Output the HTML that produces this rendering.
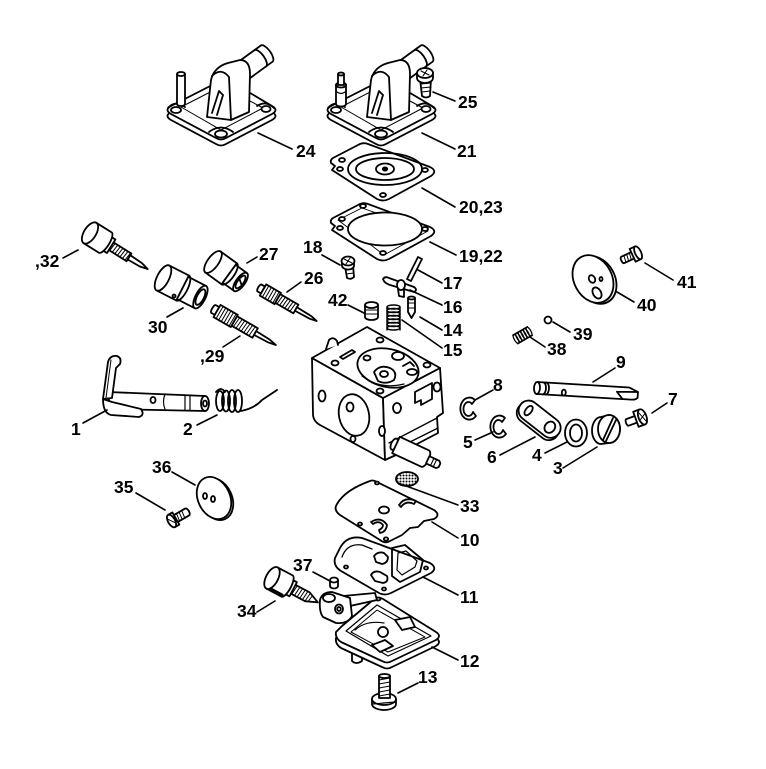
<!DOCTYPE html>
<html><head><meta charset="utf-8"><style>
html,body{margin:0;padding:0;background:#fff;width:766px;height:769px;overflow:hidden}
svg{display:block}
.t{font-family:"Liberation Sans",Arial,sans-serif;font-weight:bold;font-size:17.5px;fill:#000;stroke:none}
</style></head><body>
<svg width="766" height="769" viewBox="0 0 766 769" xmlns="http://www.w3.org/2000/svg">
<defs>
<pattern id="mesh" width="3" height="3" patternUnits="userSpaceOnUse"><rect width="3" height="3" fill="#fff"/><circle cx="1.5" cy="1.5" r="1" fill="#000"/></pattern>
</defs>
<g fill="#fff" stroke="#000" stroke-width="1.8" stroke-linejoin="round" stroke-linecap="round">

<!-- COVER 24 (reused for 21) -->
<g id="cv">
 <path d="M171,112 L220,87 Q225,84 230,87 L272,112 Q279,116 272,120 L226,144 Q221,147 216,144 L171,120 Q164,116 171,112 Z"/>
 <path d="M171,106 L220,81 Q225,78 230,81 L272,106 Q279,110 272,114 L226,138 Q221,141 216,138 L171,114 Q164,110 171,106 Z"/>
 <path d="M181,107 L222,86 L263,108 L221,130 Z" fill="none" stroke-width="1"/>
 <path d="M168,108 Q175,100 185,107" fill="none"/>
 <ellipse cx="176" cy="110" rx="5" ry="3"/>
 <path d="M209,132 Q221,123 233,132" fill="none"/>
 <ellipse cx="221" cy="134" rx="6" ry="3.5"/>
 <path d="M257,106 Q266,100 274,108" fill="none"/>
 <ellipse cx="266" cy="109" rx="4.5" ry="3"/>
 <g transform="translate(240,73) rotate(-36)">
  <path d="M0,-10 L33,-10 A4,10 0 0 1 33,10 L0,10 Z"/>
  <path d="M25,-10 A4,10 0 0 1 25,10" fill="none"/>
 </g>
 <path d="M207,117 L211,80 Q214,67 228,63 L240,60 Q250,60 250,74 L249,112 L231,120 Z"/>
 <path d="M212,76 Q221,67 229,77 L231,120" fill="none"/>
 <path d="M212,113 L219,91 L223,95 L217,115" fill="none"/>
</g>
<use href="#cv" transform="translate(160,0)"/>

<!-- pin 24 -->
<path d="M177,74 L177,104 A4,2 0 0 0 185,104 L185,74"/>
<ellipse cx="181" cy="74" rx="4" ry="2"/>
<!-- nipple 21 -->
<path d="M336,85 L336,104 A5,2.5 0 0 0 346,104 L346,85"/>
<ellipse cx="341" cy="85" rx="5" ry="2.5"/>
<path d="M338,74 L338,85 L344,85 L344,74"/>
<ellipse cx="341" cy="74" rx="3" ry="1.5"/>
<path d="M337,92 Q341,95 345,92" fill="none" stroke-width="1.2"/>

<!-- screw 25 -->
<path d="M420,79 L422,96 Q426,99 430,96 L431,79 Z"/>
<path d="M421,84 L431,83 M421,88 L431,87 M422,92 L430,91" fill="none" stroke-width="1"/>
<path d="M417,73 L417,78 A8,5 0 0 0 433,78 L433,73"/>
<ellipse cx="425" cy="73" rx="8" ry="5"/>
<path d="M421,71 L429,75 M423,76 L427,70" fill="none" stroke-width="1.1"/>

<!-- gasket 20,23 -->
<path d="M333,158 L358,145 Q363,142 368,144 L430,167 Q438,171 431,176 L389,199 Q383,202 377,199 L332,170 L335,166 L331,163 Q330,160 333,158 Z"/>
<ellipse cx="385" cy="169" rx="37" ry="16" fill="none"/>
<ellipse cx="385" cy="169" rx="29" ry="11" fill="none"/>
<ellipse cx="385" cy="169" rx="9" ry="5.5" fill="none"/>
<ellipse cx="385" cy="169" rx="2.2" ry="1.6" fill="#000"/>
<ellipse cx="342" cy="160" rx="3" ry="2"/>
<ellipse cx="340" cy="169" rx="3" ry="2"/>
<ellipse cx="425" cy="170" rx="3" ry="2"/>
<ellipse cx="383" cy="195" rx="3" ry="2"/>

<!-- gasket 19,22 -->
<path d="M333,218 L358,205 Q363,202 368,204 L430,227 Q438,231 431,236 L389,259 Q383,262 377,259 L332,230 L335,226 L331,223 Q330,220 333,218 Z"/>
<path d="M338,220 L362,208 L428,231 L384,255 Z" fill="none" stroke-width="0.9"/>
<ellipse cx="385" cy="229" rx="37" ry="16.5"/>
<ellipse cx="342" cy="219" rx="3" ry="2"/>
<ellipse cx="340" cy="228" rx="3" ry="2"/>
<ellipse cx="425" cy="229" rx="3" ry="2"/>
<ellipse cx="363" cy="206" rx="3" ry="2"/>
<ellipse cx="383" cy="253" rx="3" ry="2"/>

<!-- screw 18 -->
<path d="M345,266 L347,278 Q351,280 354,277 L353,265 Z"/>
<path d="M346,270 L353,269 M346,274 L354,273" fill="none" stroke-width="1"/>
<path d="M342,261 L342,265 A6,4 0 0 0 354,266 L354,261"/>
<ellipse cx="348" cy="261" rx="6.5" ry="4.5"/>
<path d="M344,259 L352,263 M346,264 L350,258" fill="none" stroke-width="1"/>

<!-- pin 17 -->
<path d="M418,257 L422,259 L411,281 L407,279 Z"/>
<!-- lever 16 -->
<path d="M383,279 Q385,276 389,278 L414,287 Q418,290 414,292 L390,285 Q384,283 383,279 Z"/>
<path d="M398,289 L399,296 L404,297 L404,290"/>
<ellipse cx="401" cy="285" rx="4" ry="5"/>
<!-- 42 -->
<path d="M365,305 L365,317 A6.5,3 0 0 0 378,317 L378,305"/>
<ellipse cx="371.5" cy="305" rx="6.5" ry="3"/>
<path d="M365,310 L378,310 M365,314 L378,314" fill="none" stroke-width="1"/>
<!-- spring 15 -->
<g fill="none" stroke-width="1.4">
<path d="M387,307 L387,330 M400,307 L400,330"/>
<ellipse cx="393.5" cy="307" rx="6.5" ry="2"/>
<ellipse cx="393.5" cy="310.5" rx="6.5" ry="2"/>
<ellipse cx="393.5" cy="314" rx="6.5" ry="2"/>
<ellipse cx="393.5" cy="317.5" rx="6.5" ry="2"/>
<ellipse cx="393.5" cy="321" rx="6.5" ry="2"/>
<ellipse cx="393.5" cy="324.5" rx="6.5" ry="2"/>
<ellipse cx="393.5" cy="328" rx="6.5" ry="2"/>
</g>
<!-- 14 -->
<path d="M408,298 L408,312 L411.5,318 L415,312 L415,298"/>
<ellipse cx="411.5" cy="298" rx="3.5" ry="1.5"/>
<path d="M408,303 L415,303 M408,308 L415,308" fill="none" stroke-width="1"/>

<!-- BODY -->
<path d="M312,358 L383,398 L385,460 L320,425 Q313,421 313,414 Z"/>
<path d="M383,398 L440,368 L443,413 L437,417 L438,433 L396,455 L385,460 Z"/>
<path d="M312,358 L367,327 L440,368 L383,398 Z"/>
<path d="M326,349 L329,340 Q333,336 337,341 L338,345" />
<path d="M389,443 L437,418 M394,450 L438,428" fill="none" stroke-width="1.3"/>
<ellipse cx="388" cy="368" rx="31" ry="19" transform="rotate(12 388 368)"/>
<path d="M362,376 Q380,390 404,384" fill="none" stroke-width="1.2"/>
<ellipse cx="398" cy="356" rx="6" ry="4"/>
<ellipse cx="367" cy="358" rx="3.5" ry="2.5"/>
<path d="M374,372 Q380,364 390,368 Q398,372 394,380 Q386,385 378,381 Z"/>
<ellipse cx="384" cy="374" rx="4" ry="3"/>
<ellipse cx="412" cy="372" rx="5" ry="3"/>
<path d="M403,366 L410,362 L414,366" fill="none"/>
<ellipse cx="335" cy="363" rx="3.5" ry="2.5"/>
<ellipse cx="380" cy="340" rx="3.5" ry="2.5"/>
<ellipse cx="427" cy="365" rx="3.5" ry="2.5"/>
<ellipse cx="380" cy="391" rx="3.5" ry="2.5"/>
<path d="M340,357 L352,350 L355,352 L343,359 Z"/>
<ellipse cx="354" cy="415" rx="15" ry="21" transform="rotate(-12 354 415)"/>
<ellipse cx="350" cy="407" rx="3.5" ry="4.5"/>
<ellipse cx="353" cy="439" rx="2.5" ry="3"/>
<ellipse cx="322" cy="396" rx="3.5" ry="5.5"/>
<ellipse cx="382" cy="431" rx="3" ry="5"/>
<ellipse cx="397" cy="408" rx="4" ry="5"/>
<ellipse cx="437" cy="387" rx="3.5" ry="4.5"/>
<path d="M415,392 L432,383 L432,399 L421,405 L421,400 L415,403 Z"/>
<!-- inlet -->
<g transform="translate(396,445) rotate(25)">
 <ellipse cx="-2" cy="0" rx="3" ry="6"/>
 <path d="M0,-9 L32,-9 A4,9 0 0 1 32,9 L0,9 Z"/>
 <path d="M35,-4 L46,-4 L48,-2 L48,2 L46,4 L35,4 Z"/>
 <path d="M40,-4 L40,4 M43,-3 L43,3" fill="none" stroke-width="1.1"/>
</g>

<!-- 32 screw -->
<g transform="translate(90,233) rotate(32)">
 <path d="M24,-4.5 L46,-4.5 L46,4.5 L24,4.5 Z"/>
 <path d="M27,-4.5 L26,4.5 M30,-4.5 L29,4.5 M33,-4.5 L32,4.5 M36,-4.5 L35,4.5 M39,-4.5 L38,4.5 M42,-4.5 L41,4.5 M45,-4.5 L44,4.5" fill="none" stroke-width="1"/>
 <path d="M46,-2.5 L60,-2 L68,0 L60,2 L46,2.5 Z"/>
 <path d="M17,-8 L25,-8 L25,8 L17,8 Z"/>
 <path d="M0,-12 L18,-12 A4,12 0 0 1 18,12 L0,12 Z"/>
 <ellipse cx="0" cy="0" rx="6" ry="12"/>
</g>
<!-- 30 sleeve -->
<g transform="translate(163,278) rotate(27)">
 <path d="M0,-14 L22,-14 L22,14 L0,14 Z"/>
 <ellipse cx="0" cy="0" rx="6" ry="14"/>
 <path d="M22,-12.5 L42,-12.5 L42,12.5 L22,12.5 Z"/>
 <path d="M22,-14 A5,14 0 0 1 22,14" fill="none"/>
 <ellipse cx="42" cy="0" rx="5" ry="12.5"/>
 <ellipse cx="42" cy="0" rx="3.5" ry="8.5"/>
 <ellipse cx="18" cy="11" rx="1.5" ry="1.5"/>
</g>
<!-- 27 -->
<g transform="translate(213,262) rotate(36)">
 <path d="M0,-13 L20,-13 L20,13 L0,13 Z"/>
 <ellipse cx="0" cy="0" rx="5.5" ry="13"/>
 <path d="M20,-11 L34,-11 L34,11 L20,11 Z"/>
 <path d="M20,-13 A5,13 0 0 1 20,13" fill="none"/>
 <ellipse cx="34" cy="0" rx="4.5" ry="11"/>
 <ellipse cx="34" cy="0" rx="3" ry="7.5"/>
 <path d="M31,-2 L37,2" fill="none"/>
</g>
<!-- 26 needle -->
<g transform="translate(263,290) rotate(30)">
 <path d="M-4,-4 L0,-4 L0,4 L-4,4 A1.5,4 0 0 1 -4,-4 Z"/>
 <path d="M0,-6.5 L17,-6.5 L17,6.5 L0,6.5 Z"/>
 <path d="M3,-6.5 L3,6.5 M6,-6.5 L6,6.5 M9,-6.5 L9,6.5 M12,-6.5 L12,6.5 M15,-6.5 L15,6.5" fill="none" stroke-width="1"/>
 <path d="M17,-5 L38,-5 L38,5 L17,5 Z"/>
 <path d="M20,-5 L19,5 M23,-5 L22,5 M26,-5 L25,5 M29,-5 L28,5 M32,-5 L31,5 M35,-5 L34,5" fill="none" stroke-width="1"/>
 <path d="M38,-2 L55,-1.5 L62,0 L55,1.5 L38,2 Z"/>
</g>
<!-- 29 needle -->
<g transform="translate(217,311) rotate(30)">
 <path d="M-4,-4.5 L0,-4.5 L0,4.5 L-4,4.5 A1.5,4.5 0 0 1 -4,-4.5 Z"/>
 <path d="M0,-7 L20,-7 L20,7 L0,7 Z"/>
 <path d="M3,-7 L3,7 M6,-7 L6,7 M9,-7 L9,7 M12,-7 L12,7 M15,-7 L15,7 M18,-7 L18,7" fill="none" stroke-width="1"/>
 <path d="M20,-5.5 L44,-5.5 L44,5.5 L20,5.5 Z"/>
 <path d="M23,-5.5 L22,5.5 M26,-5.5 L25,5.5 M29,-5.5 L28,5.5 M32,-5.5 L31,5.5 M35,-5.5 L34,5.5 M38,-5.5 L37,5.5 M41,-5.5 L40,5.5" fill="none" stroke-width="1"/>
 <path d="M44,-2.2 L60,-1.6 L68,0 L60,1.6 L44,2.2 Z"/>
</g>

<!-- lever 1 -->
<path d="M108,392 L205,396 L205,411 L110,409 Z"/>
<ellipse cx="205" cy="403.5" rx="4" ry="7.5"/>
<ellipse cx="205" cy="403.5" rx="2" ry="3"/>
<path d="M185,395 L185,410 M190,395 L190,410" fill="none" stroke-width="1.2"/>
<ellipse cx="153" cy="400" rx="2.5" ry="3"/>
<path d="M165,394 Q162,402 165,409" fill="none" stroke-width="1.2"/>
<path d="M103,399 Q103,413 111,415 L139,417 Q145,415 141,409 L112,402 Z"/>
<path d="M103,399 L108,362 Q110,355 117,356 Q122,358 120,364 L116,368 L112,398 Z"/>
<path d="M111,360 L106,398" fill="none" stroke-width="1"/>
<!-- spring 2 -->
<g fill="none">
<ellipse cx="220" cy="401" rx="4" ry="10"/>
<ellipse cx="226" cy="401" rx="4" ry="10.5"/>
<ellipse cx="232" cy="401" rx="4" ry="11"/>
<ellipse cx="238" cy="401" rx="4" ry="11"/>
<path d="M241,411 Q255,408 262,400 L277,390"/>
<path d="M216,392 Q221,386 225,392"/>
</g>

<!-- 41 screw -->
<g transform="translate(629,257) rotate(-25)">
 <path d="M-7,-3.5 L6,-3.5 L6,3.5 L-7,3.5 A1.5,3.5 0 0 1 -7,-3.5 Z"/>
 <path d="M-4,-3.5 L-5,3.5 M-1,-3.5 L-2,3.5 M2,-3.5 L1,3.5" fill="none" stroke-width="1"/>
 <path d="M4,-7 L10,-7 L10,7 L4,7 Z"/>
 <ellipse cx="10" cy="0" rx="3" ry="7"/>
</g>
<!-- 40 disc -->
<ellipse cx="596" cy="280" rx="19" ry="25" transform="rotate(-28 596 280)"/>
<ellipse cx="593" cy="279" rx="19" ry="25" transform="rotate(-28 593 279)"/>
<ellipse cx="592" cy="279" rx="3" ry="4" transform="rotate(-28 592 279)"/>
<ellipse cx="601" cy="279" rx="1.5" ry="2"/>
<ellipse cx="597" cy="293" rx="4" ry="6" transform="rotate(-30 597 293)"/>
<!-- 39 ball -->
<circle cx="548" cy="320" r="3.5"/>
<!-- 38 spring -->
<g transform="translate(523,335) rotate(-30)" fill="none" stroke-width="1.3">
 <path d="M-9,-5 L8,-5 M-9,5 L8,5"/>
 <ellipse cx="-8" cy="0" rx="1.8" ry="5"/>
 <ellipse cx="-5" cy="0" rx="1.8" ry="5"/>
 <ellipse cx="-2" cy="0" rx="1.8" ry="5"/>
 <ellipse cx="1" cy="0" rx="1.8" ry="5"/>
 <ellipse cx="4" cy="0" rx="1.8" ry="5"/>
 <ellipse cx="7" cy="0" rx="1.8" ry="5"/>
</g>
<!-- 9 shaft -->
<g transform="translate(537,388) rotate(3.4)">
 <path d="M0,-6 L92,-6 L101,-2 L101,4 Q99,6 95,6 L0,6 Z"/>
 <path d="M80,-1 L101,-2 M80,-1 L86,6" fill="none"/>
 <ellipse cx="0" cy="0" rx="3" ry="6"/>
 <path d="M6,-6 A3,6 0 0 1 6,6 M9,-6 A3,6 0 0 1 9,6" fill="none"/>
 <ellipse cx="27" cy="3" rx="2" ry="3"/>
</g>
<!-- 8 clip -->
<path d="M475,400 A9,11 0 1 0 476,416 L473,412 A5,7 0 1 1 472,404 Z"/>
<!-- 5 clip -->
<path d="M505,418 A9,11 0 1 0 506,434 L503,430 A5,7 0 1 1 502,422 Z"/>
<!-- 6 link -->
<g transform="translate(539,420) rotate(38)">
 <rect x="-24" y="-8" width="48" height="20" rx="10"/>
 <rect x="-24" y="-11" width="48" height="20" rx="10"/>
 <ellipse cx="-14" cy="-1" rx="3" ry="5.5"/>
 <ellipse cx="13" cy="-1" rx="5" ry="6"/>
</g>
<!-- 4 washer -->
<ellipse cx="576" cy="433" rx="11" ry="13.5"/>
<ellipse cx="576" cy="433" rx="6" ry="8.5"/>
<!-- 3 nut -->
<path d="M601,417 L609,415 A11,14 0 0 1 609,443 L601,444 A9,13.5 0 0 1 601,417 Z"/>
<ellipse cx="609" cy="429" rx="11" ry="14"/>
<path d="M603,440 L613,418 M606,441 L616,420" fill="none"/>
<!-- 7 screw -->
<g transform="translate(634,420) rotate(-20)">
 <path d="M-7,-3.5 L4,-3.5 L4,3.5 L-7,3.5 A1.5,3.5 0 0 1 -7,-3.5 Z"/>
 <path d="M2,-8 L9,-8 L9,8 L2,8 Z"/>
 <ellipse cx="9" cy="0" rx="4" ry="8"/>
 <path d="M7,-5 L11,5 M6,2 L12,-2" fill="none" stroke-width="1"/>
</g>

<!-- 35 screw -->
<g transform="translate(175,519) rotate(-30)">
 <path d="M0,-4 L14,-4 A2,4 0 0 1 14,4 L0,4 Z"/>
 <path d="M4,-4 L3,4 M7,-4 L6,4 M10,-4 L9,4" fill="none" stroke-width="1"/>
 <path d="M-4,-7 L1,-7 L1,7 L-4,7 Z"/>
 <ellipse cx="-4" cy="0" rx="3.5" ry="7"/>
 <path d="M-6,-3 L-2,3" fill="none" stroke-width="1"/>
</g>
<!-- 36 disc -->
<ellipse cx="216" cy="499" rx="16" ry="22" transform="rotate(-25 216 499)"/>
<ellipse cx="214" cy="498" rx="16" ry="22" transform="rotate(-25 214 498)"/>
<ellipse cx="205" cy="496" rx="2" ry="3"/>
<ellipse cx="213" cy="499" rx="2" ry="3"/>

<!-- 33 screen -->
<ellipse cx="407" cy="479" rx="11" ry="7" fill="url(#mesh)"/>

<!-- 10 gasket -->
<path d="M375,481 L434,510 Q441,515 434,519 L424,521 L418,527 L410,528 L402,535 L390,541 Q385,544 380,540 L340,515 Q333,510 337,504 Q345,490 370,481 Q372,480 375,481 Z"/>
<path d="M399,505 Q405,496 416,501 L414,504 Q406,500 401,507 Z"/>
<ellipse cx="384" cy="510" rx="5" ry="3.5"/>
<ellipse cx="360" cy="524" rx="2" ry="1.5"/>
<path d="M371,522 Q381,516 387,525 Q386,532 380,533 L379,530 Q383,528 383,525 Q379,520 373,524 Z"/>
<ellipse cx="386" cy="539" rx="2.2" ry="1.6"/>
<ellipse cx="377" cy="483" rx="2" ry="1.4"/>

<!-- 11 gasket -->
<path d="M340,548 Q347,535 362,538 L430,563 Q438,568 431,573 L391,593 Q385,596 379,593 L341,571 Q333,566 335,558 Z"/>
<path d="M342,557 Q347,543 362,545 L372,549" fill="none" stroke-width="1.3"/>
<path d="M374,556 Q378,551 384,553 L388,557 Q388,563 382,564 L376,562 Z"/>
<path d="M371,575 Q374,570 380,572 L387,576 Q389,582 383,583 L375,581 Z"/>
<path d="M392,548 L405,545 L423,560 L420,572 L400,582 L392,576 Z" fill="none"/>
<path d="M398,553 L406,551 L417,561 L415,567 L402,575 L397,570 Z" fill="none" stroke-width="1.2"/>
<ellipse cx="346" cy="567" rx="2" ry="1.5"/>
<ellipse cx="384" cy="589" rx="2" ry="1.5"/>
<ellipse cx="426" cy="568" rx="2" ry="1.5"/>

<!-- 12 cover -->
<path d="M352,652 L352,661 Q356,665 362,661 L362,655"/>
<path d="M342,632 L373,606 Q378,602 383,605 L436,638 Q442,642 436,646 L392,667 Q387,670 382,667 L341,648 Q335,644 336,638 Z"/>
<path d="M342,626 L373,600 Q378,596 383,599 L436,632 Q442,636 436,640 L392,661 Q387,664 382,661 L341,642 Q335,638 336,632 Z"/>
<path d="M346,631 L377,605 L431,636 L388,656 Z" fill="none" stroke-width="1.2"/>
<path d="M351,632 L377,610 L425,637 L388,652 Z" fill="none" stroke-width="1"/>
<path d="M395,620 L410,617 L415,627 L402,630 Z"/>
<circle cx="383" cy="632" r="5"/>
<path d="M372,645 L385,640 L393,646 L380,652 Z"/>
<path d="M355,630 Q366,620 384,623" fill="none" stroke-width="1.2"/>
<ellipse cx="378" cy="599" rx="2.5" ry="1.5"/>
<path d="M343,596 L375,593 L377,600 L350,606 Z"/>
<path d="M320,600 Q322,592 332,592 L350,598 L352,616 Q348,624 336,623 L323,617 Q319,612 320,600 Z"/>
<ellipse cx="329" cy="598" rx="6" ry="4"/>
<ellipse cx="339" cy="609" rx="4" ry="4.5"/>
<ellipse cx="339" cy="609" rx="1.8" ry="2"/>

<!-- 34 screw -->
<g transform="translate(272,578) rotate(28)">
 <path d="M22,-5 L40,-5 L52,0 L40,5 L22,5 Z"/>
 <path d="M26,-5 L25,5 M29,-5 L28,5 M32,-5 L31,5 M35,-5 L34,5 M38,-5 L37,5 M41,-4.5 L40,4.5 M44,-3.3 L43,3.3" fill="none" stroke-width="1"/>
 <path d="M15,-8 L24,-8 L24,8 L15,8 Z"/>
 <path d="M0,-12 L17,-12 A4,12 0 0 1 17,12 L0,12 Z"/>
 <path d="M1,10 L17,10" fill="none" stroke-width="2.5"/>
 <ellipse cx="0" cy="0" rx="6" ry="12"/>
</g>
<!-- 37 -->
<path d="M330,580 L330,586 A4,2.5 0 0 0 338,586 L338,580"/>
<ellipse cx="334" cy="580" rx="4" ry="2.5"/>

<!-- 13 screw -->
<path d="M372,699 L372,704 A12,6 0 0 0 396,704 L396,699"/>
<ellipse cx="384" cy="699" rx="12" ry="6"/>
<path d="M373,704 L395,702" fill="none" stroke-width="1.2"/>
<path d="M379,676 L379,698 L390,698 L390,676 Z"/>
<path d="M379,680 L390,678 M379,684 L390,682 M379,688 L390,686 M379,692 L390,690 M379,696 L390,694" fill="none" stroke-width="1"/>
<ellipse cx="384.5" cy="676" rx="5.5" ry="2"/>
</g>

<!-- LEADER LINES -->
<g stroke="#000" stroke-width="1.6" stroke-linecap="round" fill="none">
<path d="M258,133 L292,149"/>
<path d="M422,133 L455,149"/>
<path d="M433,92 L455,101"/>
<path d="M422,188 L455,207"/>
<path d="M430,242 L456,255"/>
<path d="M247,263 L257,257"/>
<path d="M63,258 L78,250"/>
<path d="M322,255 L340,265"/>
<path d="M287,292 L301,282"/>
<path d="M418,270 L442,283"/>
<path d="M410,290 L442,305"/>
<path d="M420,317 L442,330"/>
<path d="M402,320 L442,348"/>
<path d="M348,305 L364,313"/>
<path d="M167,317 L183,308"/>
<path d="M223,347 L240,336"/>
<path d="M83,423 L107,410"/>
<path d="M197,425 L217,415"/>
<path d="M645,263 L673,280"/>
<path d="M617,292 L634,302"/>
<path d="M553,322 L570,332"/>
<path d="M530,337 L545,347"/>
<path d="M593,382 L615,368"/>
<path d="M475,400 L493,390"/>
<path d="M652,413 L667,403"/>
<path d="M475,440 L493,432"/>
<path d="M500,455 L535,437"/>
<path d="M545,453 L567,442"/>
<path d="M563,468 L597,447"/>
<path d="M172,472 L195,485"/>
<path d="M136,493 L165,510"/>
<path d="M313,572 L330,581"/>
<path d="M257,612 L275,601"/>
<path d="M398,483 L458,505"/>
<path d="M432,522 L458,538"/>
<path d="M423,577 L458,595"/>
<path d="M432,647 L458,660"/>
<path d="M398,693 L418,683"/>
</g>

<!-- LABELS -->
<text class="t" x="296" y="157">24</text>
<text class="t" x="457" y="157">21</text>
<text class="t" x="458" y="108">25</text>
<text class="t" x="459" y="213">20,23</text>
<text class="t" x="459" y="262">19,22</text>
<text class="t" x="259" y="260">27</text>
<text class="t" x="35" y="267">,32</text>
<text class="t" x="303" y="253">18</text>
<text class="t" x="304" y="284">26</text>
<text class="t" x="443" y="289">17</text>
<text class="t" x="443" y="313">16</text>
<text class="t" x="328" y="306">42</text>
<text class="t" x="443" y="336">14</text>
<text class="t" x="443" y="356">15</text>
<text class="t" x="148" y="333">30</text>
<text class="t" x="200" y="362">,29</text>
<text class="t" x="71" y="435">1</text>
<text class="t" x="183" y="435">2</text>
<text class="t" x="677" y="288">41</text>
<text class="t" x="637" y="311">40</text>
<text class="t" x="573" y="340">39</text>
<text class="t" x="547" y="355">38</text>
<text class="t" x="616" y="368">9</text>
<text class="t" x="493" y="391">8</text>
<text class="t" x="668" y="405">7</text>
<text class="t" x="463" y="448">5</text>
<text class="t" x="487" y="463">6</text>
<text class="t" x="532" y="461">4</text>
<text class="t" x="553" y="474">3</text>
<text class="t" x="152" y="473">36</text>
<text class="t" x="114" y="493">35</text>
<text class="t" x="460" y="512">33</text>
<text class="t" x="460" y="546">10</text>
<text class="t" x="293" y="571">37</text>
<text class="t" x="460" y="603">11</text>
<text class="t" x="237" y="617">34</text>
<text class="t" x="460" y="667">12</text>
<text class="t" x="418" y="683">13</text>
</svg>
</body></html>
